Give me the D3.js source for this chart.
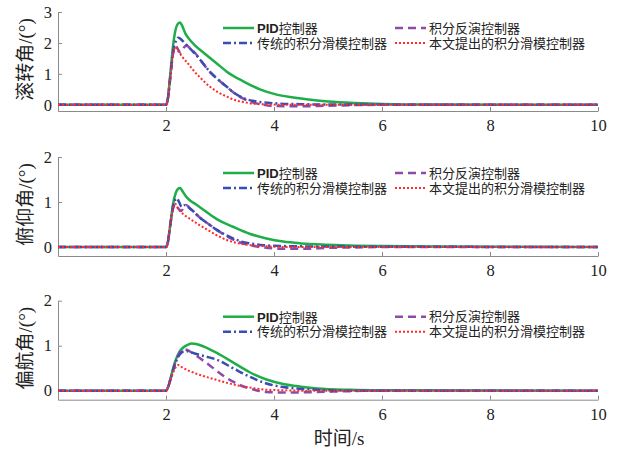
<!DOCTYPE html>
<html>
<head>
<meta charset="utf-8">
<script src="https://cdn.jsdelivr.net/npm/d3@7"></script>
<style>
body { margin: 0; background: #fff; }
</style>
</head>
<body>
<div id="chart"></div>
<script>
// x ticks and panel labels
var timeTicks = [2, 4, 6, 8, 10];
var panelLabels = ["滚转角/(°)", "俯仰角/(°)", "偏航角/(°)"];
var panelYTicks = [[0, 1, 2, 3], [0, 1, 2], [0, 1, 2]];
var legendNames = ["PID控制器", "积分反演控制器", "传统的积分滑模控制器", "本文提出的积分滑模控制器"];

// roll angle, [time s, deg]
var rollPid = [[0,0],[2,0],[2.03,0.15],[2.08,1.0],[2.13,1.9],[2.18,2.45],[2.22,2.62],[2.26,2.66],[2.3,2.55],[2.36,2.3],[2.44,2.1],[2.55,1.9],[2.7,1.68],[2.81,1.52],[3,1.25],[3.12,1.08],[3.43,0.76],[3.74,0.5],[4.05,0.33],[4.3,0.25],[4.6,0.18],[5,0.11],[5.5,0.06],[6,0.03],[7,0.01],[10,0]];
var rollInv = [[0,0],[2,0],[2.03,0.15],[2.08,0.9],[2.13,1.65],[2.18,1.9],[2.22,1.8],[2.27,1.68],[2.33,1.85],[2.38,1.92],[2.45,1.82],[2.55,1.65],[2.65,1.42],[2.81,1.07],[2.95,0.84],[3.12,0.59],[3.25,0.4],[3.43,0.2],[3.6,0.08],[3.8,0],[4,-0.04],[4.5,-0.05],[5,-0.03],[5.5,-0.01],[6,0],[10,0]];
var rollIsm = [[0,0],[2,0],[2.03,0.15],[2.08,0.9],[2.13,1.7],[2.18,2.05],[2.23,2.17],[2.3,2.08],[2.4,1.9],[2.5,1.72],[2.65,1.42],[2.81,1.07],[2.95,0.84],[3.12,0.59],[3.25,0.4],[3.43,0.22],[3.6,0.13],[3.74,0.09],[4,0.05],[4.5,0.02],[5,0.01],[10,0]];
var rollProp = [[0,0],[2,0],[2.03,0.15],[2.08,0.9],[2.13,1.6],[2.17,1.88],[2.22,1.75],[2.3,1.55],[2.4,1.35],[2.5,1.13],[2.65,0.85],[2.81,0.59],[2.95,0.42],[3.12,0.27],[3.3,0.14],[3.43,0.09],[3.6,0.04],[3.8,0.02],[4.2,0],[10,0]];

// pitch angle
var pitchPid = [[0,0],[2,0],[2.03,0.08],[2.08,0.5],[2.13,0.95],[2.18,1.2],[2.22,1.29],[2.26,1.31],[2.3,1.25],[2.36,1.14],[2.44,1.04],[2.55,0.95],[2.7,0.82],[2.94,0.62],[3.24,0.45],[3.56,0.29],[3.86,0.19],[4.17,0.12],[4.5,0.08],[5,0.05],[5.5,0.03],[6,0.02],[7,0.01],[10,0]];
var pitchInv = [[0,0],[2,0],[2.03,0.08],[2.08,0.5],[2.13,0.85],[2.18,0.95],[2.23,0.85],[2.28,0.8],[2.34,0.9],[2.38,0.93],[2.45,0.85],[2.55,0.74],[2.63,0.65],[2.8,0.5],[2.94,0.38],[3.1,0.26],[3.24,0.17],[3.4,0.09],[3.56,0.04],[3.8,-0.01],[4.2,-0.04],[4.6,-0.04],[5,-0.02],[5.5,-0.01],[6,0],[10,0]];
var pitchIsm = [[0,0],[2,0],[2.03,0.08],[2.08,0.5],[2.13,0.9],[2.17,1.05],[2.2,1.08],[2.25,0.98],[2.29,0.89],[2.35,0.93],[2.42,0.88],[2.5,0.8],[2.63,0.65],[2.8,0.5],[2.94,0.38],[3.1,0.27],[3.24,0.19],[3.4,0.12],[3.56,0.08],[3.8,0.04],[4.2,0.02],[5,0.01],[10,0]];
var pitchProp = [[0,0],[2,0],[2.03,0.08],[2.08,0.5],[2.13,0.85],[2.17,0.96],[2.22,0.86],[2.32,0.73],[2.45,0.62],[2.63,0.48],[2.8,0.36],[2.94,0.26],[3.1,0.17],[3.24,0.11],[3.4,0.07],[3.56,0.04],[3.8,0.02],[4.2,0],[10,0]];

// yaw angle
var yawPid = [[0,0],[2,0],[2.05,0.12],[2.1,0.35],[2.17,0.65],[2.25,0.87],[2.32,0.96],[2.4,1.02],[2.48,1.05],[2.56,1.04],[2.7,0.98],[2.94,0.84],[3.24,0.63],[3.55,0.41],[3.86,0.25],[4.17,0.15],[4.5,0.09],[4.8,0.05],[5.4,0.02],[6,0.01],[10,0]];
var yawInv = [[0,0],[2,0],[2.05,0.12],[2.1,0.33],[2.17,0.62],[2.25,0.84],[2.32,0.92],[2.38,0.91],[2.5,0.83],[2.63,0.72],[2.8,0.57],[2.94,0.44],[3.1,0.3],[3.24,0.2],[3.4,0.11],[3.55,0.05],[3.7,0],[3.86,-0.03],[4.17,-0.04],[4.8,-0.03],[5.4,-0.01],[6,0],[10,0]];
var yawIsm = [[0,0],[2,0],[2.05,0.12],[2.1,0.33],[2.17,0.6],[2.25,0.8],[2.32,0.87],[2.38,0.88],[2.45,0.86],[2.55,0.82],[2.7,0.77],[2.94,0.69],[3.24,0.5],[3.55,0.31],[3.86,0.16],[4.17,0.08],[4.5,0.04],[4.8,0.02],[5.5,0],[10,0]];
var yawProp = [[0,0],[2,0],[2.05,0.12],[2.1,0.3],[2.17,0.5],[2.23,0.57],[2.3,0.52],[2.45,0.43],[2.63,0.35],[2.94,0.24],[3.24,0.14],[3.55,0.07],[3.86,0.02],[4.17,0.01],[4.5,0],[10,0]];

var panels = [
  [rollPid, rollInv, rollIsm, rollProp],
  [pitchPid, pitchInv, pitchIsm, pitchProp],
  [yawPid, yawInv, yawIsm, yawProp]
];

// line styles in draw order: pid, inverse, ism, proposed
var styles = [
  { color: "#1fad48", dash: null, width: 2.5 },
  { color: "#8e4aa8", dash: "8,5", width: 2.5 },
  { color: "#3a4db3", dash: "8,3,2,3", width: 2.5 },
  { color: "#ff2a2a", dash: "2,2", width: 2 }
];

var width = 617, height = 450;
var left = 58, right = 598;
var panelTop = [12, 157, 300.7];
var panelH = 99;
var serif = "'Liberation Serif', 'Times New Roman', Times, serif";
var cjk = "'Liberation Serif', 'Noto Sans CJK SC', serif";

var svg = d3.select("#chart").append("svg")
  .attr("width", width)
  .attr("height", height)
  .style("font-family", serif);

var x = d3.scaleLinear().domain([0, 10]).range([left, right]);

panels.forEach(function(series, p) {
  var top = panelTop[p];
  var yMax = panelYTicks[p][panelYTicks[p].length - 1];
  var y = d3.scaleLinear().domain([-0.2, yMax]).range([top + panelH, top]);

  var g = svg.append("g");

  // axes
  var xAxis = g.append("g")
    .attr("transform", "translate(0," + (top + panelH) + ")")
    .call(d3.axisBottom(x).tickValues(timeTicks).tickFormat(d3.format("d"))
      .tickSize(-4).tickSizeOuter(0).tickPadding(8.5));
  var yAxis = g.append("g")
    .attr("transform", "translate(" + left + ",0)")
    .call(d3.axisLeft(y).tickValues(panelYTicks[p]).tickFormat(d3.format("d"))
      .tickSize(-4).tickSizeOuter(0).tickPadding(6));

  [xAxis, yAxis].forEach(function(a) {
    a.attr("font-family", serif);
    a.select(".domain").attr("stroke", "#8a8a8a");
    a.selectAll(".tick line").attr("stroke", "#8a8a8a");
    a.selectAll(".tick text")
      .attr("fill", "#222")
      .style("font-family", serif)
      .style("font-size", "16.5px");
  });

  // curves
  var line = d3.line()
    .x(function(d) { return x(d[0]); })
    .y(function(d) { return y(d[1]); })
    .curve(d3.curveMonotoneX);

  series.forEach(function(data, i) {
    g.append("path")
      .datum(data)
      .attr("fill", "none")
      .attr("stroke", styles[i].color)
      .attr("stroke-width", styles[i].width)
      .attr("stroke-dasharray", styles[i].dash)
      .attr("d", line);
  });

  // y label
  g.append("text")
    .attr("transform", "translate(25," + (top + panelH / 2 - 2) + ") rotate(-90)")
    .attr("text-anchor", "middle")
    .attr("dominant-baseline", "central")
    .style("font-family", cjk)
    .style("font-size", "19px")
    .attr("fill", "#222")
    .text(panelLabels[p]);

  // legend: 2 columns x 2 rows
  var legendPos = [
    { idx: 0, lx: 223, ly: top + 16 },
    { idx: 1, lx: 395, ly: top + 16 },
    { idx: 2, lx: 223, ly: top + 31 },
    { idx: 3, lx: 395, ly: top + 31 }
  ];
  legendPos.forEach(function(lp) {
    var s = styles[lp.idx];
    g.append("line")
      .attr("x1", lp.lx).attr("x2", lp.lx + 31)
      .attr("y1", lp.ly).attr("y2", lp.ly)
      .attr("stroke", s.color)
      .attr("stroke-width", s.width)
      .attr("stroke-dasharray", s.dash);
    var t = g.append("text")
      .attr("x", lp.lx + 34)
      .attr("y", lp.ly)
      .attr("dominant-baseline", "central")
      .style("font-size", "13px")
      .style("font-family", cjk)
      .attr("fill", "#222");
    var name = legendNames[lp.idx];
    if (name.indexOf("PID") === 0) {
      t.append("tspan")
        .style("font-family", "'Liberation Sans', Arial, sans-serif")
        .style("font-weight", "bold")
        .text("PID");
      t.append("tspan").text(name.slice(3));
    } else {
      t.text(name);
    }
  });
});

// x label
svg.append("text")
  .attr("x", 339)
  .attr("y", 438)
  .attr("text-anchor", "middle")
  .attr("dominant-baseline", "central")
  .style("font-family", cjk)
  .style("font-size", "19px")
  .attr("fill", "#222")
  .text("时间/s");
</script>
</body>
</html>
